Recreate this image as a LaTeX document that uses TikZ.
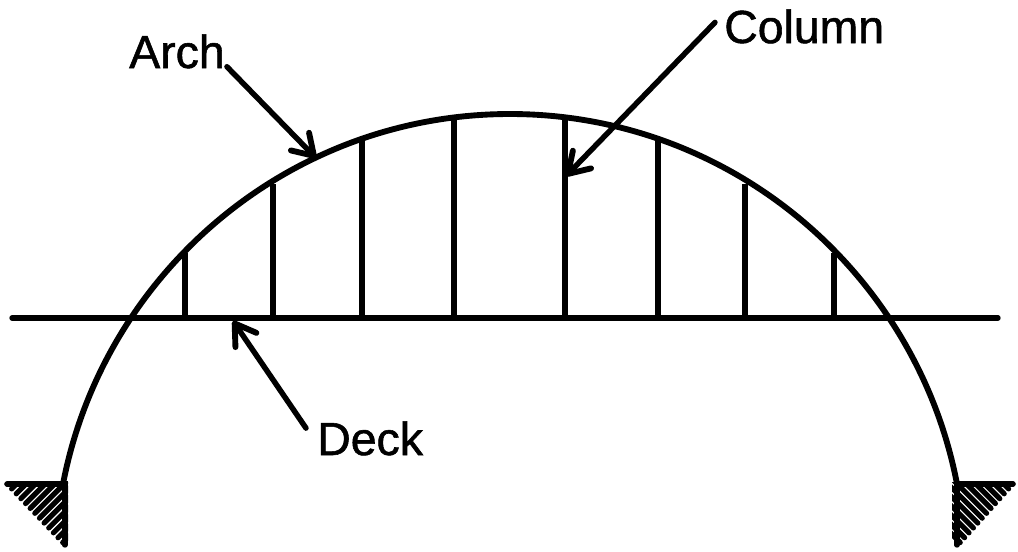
\documentclass[tikz,border=0pt]{standalone}
\usepackage{fontspec}
\setmainfont[FakeBold=1.2]{Liberation Sans}
\usetikzlibrary{arrows.meta}
\tikzset{
  member/.style={line width=4pt,line cap=round},
  archline/.style={line width=4.4pt,line cap=round},
  columnline/.style={line width=4pt},
  pointer/.style={line width=4.1pt,line cap=round,-{Straight Barb[length=15pt,width=19pt,line width=4.4pt,round]}},
  hatchline/.style={line width=3.9pt,line cap=round},
  lbl/.style={inner sep=0pt,font=\fontsize{34.8pt}{34.8pt}\selectfont}
}
\begin{document}
\begin{tikzpicture}[x=0.75pt,y=-0.75pt]
    \useasboundingbox (0,0) rectangle (1018,551);
    \coordinate (archL) at (63,484); \coordinate (archM) at (510,114); \coordinate (archR) at (957,484);
    \draw[archline] (archL) .. controls (103,275) and (287,114) .. (archM)
        .. controls (733,114) and (917,275) .. (archR);
    \coordinate (deckL) at (12,318); \coordinate (deckR) at (998,318);
    \draw[member] (deckL)--(deckR);
    % columns
    \foreach \i/\x/\y in {1/185/253,2/273/184,3/362/141,4/454/118,5/565/118,6/658/141,7/745/184,8/834/253}{
        \coordinate (top\i) at (\x,\y); \coordinate (bot\i) at (\x,318);
        \draw[columnline] (top\i)--(bot\i);
    }
    % supports
    \begin{scope}
        \clip (4,482) rectangle (68,549);
        \foreach \t in {0,0.08,...,1.01}{
            \draw[hatchline] ({7+58*\t},{484+61*\t}) -- ++(60,-60);
        }
    \end{scope}
    \begin{scope}
        \clip (952,482) rectangle (1016,549);
        \foreach \t in {0,0.08,...,1.01}{
            \draw[hatchline] ({1013-55*\t},{484+61*\t}) -- ++(-60,-60);
        }
    \end{scope}
    \coordinate (supLa) at (7,484); \coordinate (supLb) at (65,484); \coordinate (supLc) at (65,545);
    \draw[member] (supLa)--(supLb)--(supLc);
    \coordinate (supRa) at (1013,484); \coordinate (supRb) at (957,484); \coordinate (supRc) at (957,545);
    \draw[member] (supRa)--(supRb)--(supRc);
    % labels
    \node[lbl,anchor=base west] (arch) at (129,68) {Arch};
    \node[lbl,anchor=base west] (column) at (724,43) {Column};
    \node[lbl,anchor=base west] (deck) at (317,455) {Deck};
    \coordinate (archTip) at (316,158);
    \coordinate (columnTip) at (566,176);
    \coordinate (deckTip) at (233,321);
    \draw[pointer] (arch.south east)++(2,-2)--(archTip);
    \draw[pointer] (column.west)++(-9,-4)--(columnTip);
    \draw[pointer] (deck.north west)++(-11,7)--(deckTip);
\end{tikzpicture}
\end{document}
